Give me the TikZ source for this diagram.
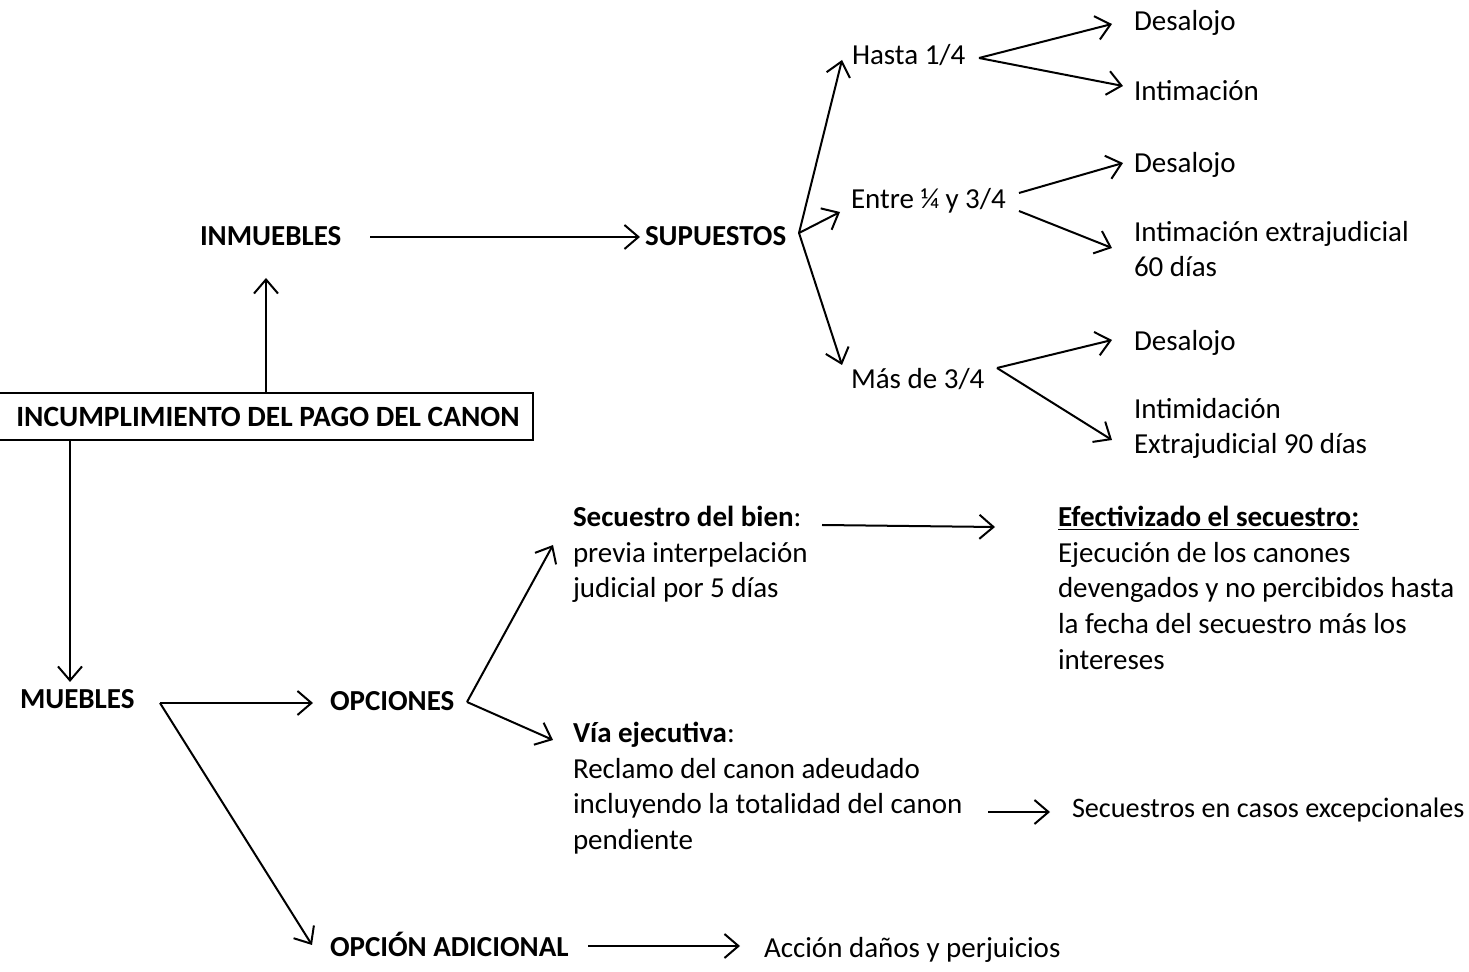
\documentclass[tikz,border=0pt]{standalone}
\usepackage{fontspec}
\setmainfont{Carlito}
\usetikzlibrary{arrows.meta}
\begin{document}
\begin{tikzpicture}[x=0.5pt,y=-0.5pt,
  every node/.style={inner sep=0pt,outer sep=0pt},
  txt/.style={anchor=north west,align=left,font=\fontsize{14.5}{17.85}\selectfont,execute at begin node=\strut},
  btxt/.style={txt,font=\fontsize{14.5}{17.85}\selectfont\bfseries},
  arr/.style={line width=1pt,-{Straight Barb[length=7pt,width=12pt,line width=1pt]}}]
\useasboundingbox (0,0) rectangle (1469,972);
% box
\node[draw,line width=1pt,minimum width=534*0.5pt,minimum height=47*0.5pt,font=\fontsize{14.7}{17.85}\selectfont\bfseries] (box) at (266,416.5) {\hspace{2pt}INCUMPLIMIENTO DEL PAGO DEL CANON};
% top branch
\node[btxt] (inm) at (200,221) {INMUEBLES};
\node[btxt] (sup) at (645,221) {SUPUESTOS};
\node[txt] (h14) at (852,40) {Hasta 1/4};
\node[txt] (e14) at (851,184) {Entre ¼ y 3/4};
\node[txt] (m34) at (851,364) {Más de 3/4};
\node[txt] (d1) at (1134,6) {Desalojo};
\node[txt] (i1) at (1134,76) {Intimación};
\node[txt] (d2) at (1134,148) {Desalojo};
\node[txt] (i2) at (1134,221) {Intimación extrajudicial\\60 días};
\node[txt] (d3) at (1134,326) {Desalojo};
\node[txt] (i3) at (1134,398) {Intimidación\\Extrajudicial 90 días};
% bottom branch
\node[btxt] (mue) at (20,684) {MUEBLES};
\node[btxt] (opc) at (330,686) {OPCIONES};
\node[btxt] (oad) at (330,932) {OPCIÓN ADICIONAL};
\node[txt] (acc) at (764,933) {Acción daños y perjuicios};
\node[txt] (sec) at (573,506) {\textbf{Secuestro del bien}:\\previa interpelación\\judicial por 5 días};
\node[txt] (efe) at (1058,506) {\underline{\textbf{Efectivizado el secuestro:}}\\Ejecución de los canones\\devengados y no percibidos hasta\\la fecha del secuestro más los\\intereses};
\node[txt] (via) at (573,722) {\textbf{Vía ejecutiva}:\\Reclamo del canon adeudado\\incluyendo la totalidad del canon\\pendiente};
\node[txt,font=\fontsize{14.1}{17.85}\selectfont] (sce) at (1072,793) {Secuestros en casos excepcionales};
% coordinates
\coordinate (ia) at (370,237);
\coordinate (ib) at (640,237);
\coordinate (bt) at (266,393);
\coordinate (it) at (266,278);
\coordinate (bb) at (70,440);
\coordinate (mt) at (70,682);
\coordinate (s0) at (799,233);
\coordinate (sh) at (842,60);
\coordinate (se) at (840,212);
\coordinate (sm) at (842,365);
\coordinate (h0) at (979,58);
\coordinate (hd) at (1112,24);
\coordinate (hi) at (1123,86);
\coordinate (e0a) at (1019,193);
\coordinate (ed) at (1123,163);
\coordinate (e0b) at (1019,211);
\coordinate (ei) at (1112,248);
\coordinate (m0) at (997,368);
\coordinate (md) at (1112,340);
\coordinate (mi) at (1112,440);
\coordinate (b0) at (160,703);
\coordinate (bo) at (313,703);
\coordinate (ba) at (312,945);
\coordinate (o0) at (467,702);
\coordinate (os) at (553,545);
\coordinate (ov) at (553,740);
\coordinate (sa) at (822,525);
\coordinate (sb) at (995,527);
\coordinate (aa) at (588,946);
\coordinate (ab) at (740,946);
\coordinate (va) at (988,812);
\coordinate (vb) at (1050,812);
% connectors
\draw[arr] (ia) -- (ib);
\draw[arr] (bt) -- (it);
\draw[arr] (bb) -- (mt);
\draw[arr] (s0) -- (sh);
\draw[arr] (s0) -- (se);
\draw[arr] (s0) -- (sm);
\draw[arr] (h0) -- (hd);
\draw[arr] (h0) -- (hi);
\draw[arr] (e0a) -- (ed);
\draw[arr] (e0b) -- (ei);
\draw[arr] (m0) -- (md);
\draw[arr] (m0) -- (mi);
\draw[arr] (b0) -- (bo);
\draw[arr] (b0) -- (ba);
\draw[arr] (o0) -- (os);
\draw[arr] (o0) -- (ov);
\draw[arr] (sa) -- (sb);
\draw[arr] (aa) -- (ab);
\draw[arr] (va) -- (vb);
\end{tikzpicture}
\end{document}
